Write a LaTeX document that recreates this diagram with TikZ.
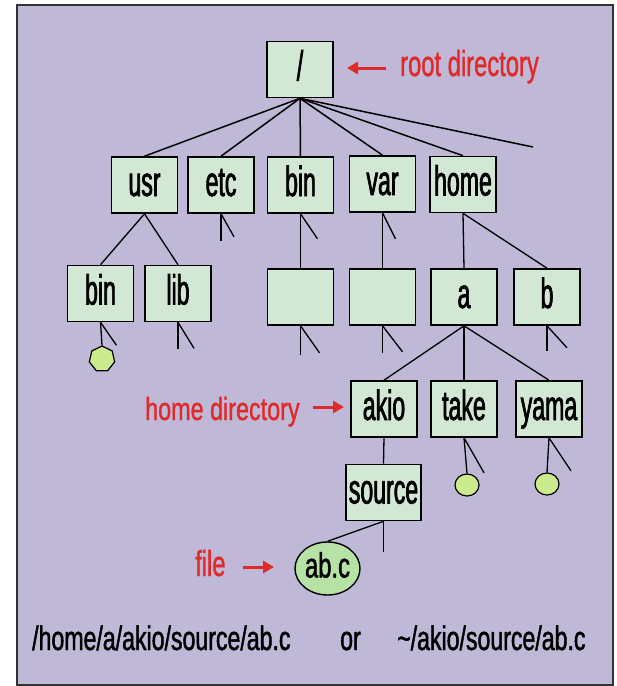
\documentclass[tikz,border=0pt]{standalone}
\usepackage{fontspec}
\setmainfont{Liberation Sans}
\newfontfamily\nodefont[FakeStretch=0.55,FakeBold=1.6]{Liberation Sans}
\newfontfamily\redfont[FakeStretch=0.73,FakeBold=1.0]{Liberation Sans}
\newfontfamily\rootfont[FakeStretch=0.66,FakeBold=1.0]{Liberation Sans}
\newfontfamily\pathfont[FakeStretch=0.68,FakeBold=1.3]{Liberation Sans}
\usetikzlibrary{shapes.geometric,arrows.meta}
\definecolor{bgpurple}{RGB}{191,184,215}
\definecolor{boxgreen}{RGB}{211,232,212}
\definecolor{leafgreen}{RGB}{204,234,142}
\definecolor{filegreen}{RGB}{182,226,166}
\definecolor{labelred}{RGB}{224,42,42}
\definecolor{framegray}{RGB}{50,50,50}
\begin{document}
\begin{tikzpicture}[x=1pt,y=-1pt,
  dirbox/.style={draw=black, line width=1.6pt, fill=boxgreen, minimum width=66pt,
    minimum height=56pt, inner sep=0pt, font=\nodefont\fontsize{42pt}{48pt}\selectfont,
    text height=30pt, text depth=8pt},
  leaf/.style={draw=black, line width=1.2pt, fill=leafgreen, ellipse,
    minimum width=24pt, minimum height=22pt, inner sep=0pt},
  filenode/.style={draw=black, line width=1.4pt, fill=filegreen, ellipse,
    minimum width=65pt, minimum height=53pt, inner sep=0pt,
    font=\pathfont\fontsize{35pt}{40pt}\selectfont, text height=25pt, text depth=7pt},
  conn/.style={line width=1.5pt},
  stub/.style={line width=1.3pt},
  redlabel/.style={text=labelred, inner sep=0pt, font=\redfont\fontsize{32pt}{38pt}\selectfont},
  pathlabel/.style={text=black, inner sep=0pt, font=\pathfont\fontsize{34pt}{40pt}\selectfont},
  redarrow/.style={labelred, line width=3pt, -{Triangle[length=11pt,width=12pt]}}
]
\useasboundingbox (0,0) rectangle (617,686);
\fill[white] (0,0) rectangle (617,686);
\draw[framegray, line width=2pt, fill=bgpurple] (17,5) rectangle (613,685);

% nodes
\node[dirbox] (root) at (300,69.5) {/};
\node[dirbox] (usr) at (144.5,185) {usr};
\node[dirbox] (etc) at (221,185) {etc};
\node[dirbox] (bin) at (300.5,185) {bin};
\node[dirbox] (var) at (382.5,184) {var};
\node[dirbox] (home) at (463,184.5) {home};
\node[dirbox] (ubin) at (100.5,293.5) {bin};
\node[dirbox] (lib) at (178,293.5) {lib};
\node[dirbox] (blankA) at (300.5,297) {};
\node[dirbox] (blankB) at (382.5,297) {};
\node[dirbox] (a) at (464,297) {a};
\node[dirbox] (b) at (547,297) {b};
\node[dirbox] (akio) at (384,409) {akio};
\node[dirbox] (take) at (464,409) {take};
\node[dirbox] (yama) at (549,409) {yama};
\node[dirbox, minimum width=75pt] (source) at (383.5,492.5) {source};
\node[filenode] (abc) at (327.5,568.5) {ab.c};
\node[leaf, shape=regular polygon, regular polygon sides=7, minimum size=26pt] (leafA) at (102,359) {};
\node[leaf] (leafB) at (467,485) {};
\node[leaf] (leafC) at (547,484) {};

% root connectors
\coordinate (freeend) at (533,147);
\draw[conn] (root.south) -- (usr.north);
\draw[conn] (root.south) -- (etc.north);
\draw[conn] (root.south) -- (bin.north);
\draw[conn] (root.south) -- (var.north);
\draw[conn] (root.south) -- (home.north);
\draw[conn] (root.south) -- (freeend);

% tree connectors
\draw[stub] (usr.south) -- (ubin.north);
\draw[stub] (usr.south) -- (lib.north);
\draw[stub] (bin.south) -- (blankA.north);
\draw[stub] (var.south) -- (blankB.north);
\draw[stub] (home.south) -- (a.north);
\draw[stub] (home.south) -- (b.north);
\draw[stub] (a.south) -- (akio.north);
\draw[stub] (a.south) -- (take.north);
\draw[stub] (a.south) -- (yama.north);
\draw[stub] (akio.south) -- (source.north);
\draw[stub] (source.south) -- (abc.north);
\draw[stub] (ubin.south) -- (leafA.north);
\draw[stub] (take.south) -- (leafB.north);
\draw[stub] (yama.south) -- (leafC.north);

% stubs (vertical and slanted)
\draw[stub] (etc.south) -- ++(0,27);
\draw[stub] (etc.south) -- ++(13,23);
\draw[stub] (bin.south) -- ++(17,25);
\draw[stub] (var.south) -- ++(13,26);
\draw[stub] (ubin.south) -- ++(16,23);
\draw[stub] (lib.south) -- ++(0,27);
\draw[stub] (lib.south) -- ++(16,26);
\draw[stub] (blankA.south) -- ++(0,29);
\draw[stub] (blankA.south) -- ++(19,27);
\draw[stub] (blankB.south) -- ++(0,27);
\draw[stub] (blankB.south) -- ++(20,26);
\draw[stub] (b.south) -- ++(0,25);
\draw[stub] (b.south) -- ++(20,22);
\draw[stub] (take.south) -- ++(20,35);
\draw[stub] (yama.south) -- ++(22,33);
\draw[stub] (source.south) -- ++(0,31);

% red labels
\node[redlabel, anchor=base west, font=\rootfont\fontsize{36pt}{40pt}\selectfont] (rootlbl) at (400,76) {root directory};
\node[redlabel, anchor=base west] (homelbl) at (145,420) {home directory};
\node[redlabel, anchor=base west, font=\rootfont\fontsize{36pt}{40pt}\selectfont] (filelbl) at (195,576) {file};
\coordinate (ra1) at (386,68);
\coordinate (ra2) at (347,68);
\coordinate (ha1) at (313,407);
\coordinate (ha2) at (344,407);
\coordinate (fa1) at (243,567);
\coordinate (fa2) at (274,567);
\draw[redarrow] (ra1) -- (ra2);
\draw[redarrow] (ha1) -- (ha2);
\draw[redarrow] (fa1) -- (fa2);

% bottom paths
\node[pathlabel, anchor=base west] (p1) at (32,650) {/home/a/akio/source/ab.c};
\node[pathlabel, anchor=base west] (por) at (340,650) {or};
\node[pathlabel, anchor=base west] (p2) at (397,650) {\textasciitilde/akio/source/ab.c};
\end{tikzpicture}
\end{document}
